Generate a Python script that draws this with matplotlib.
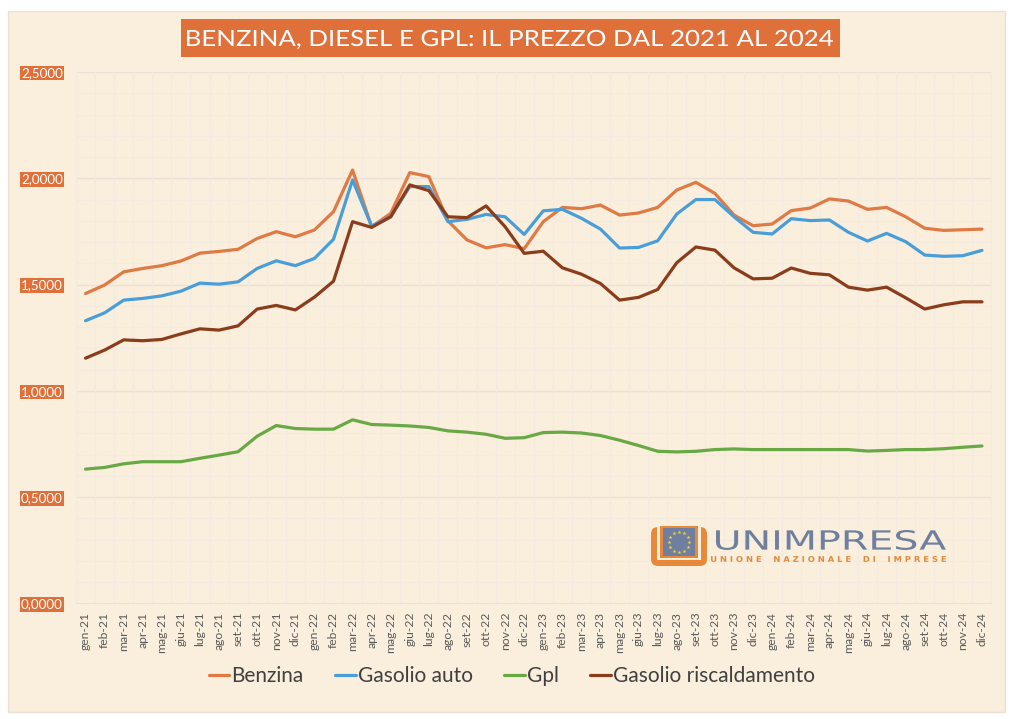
import matplotlib
matplotlib.use('Agg')
import matplotlib.pyplot as plt
from matplotlib.patches import Rectangle, FancyBboxPatch, PathPatch
from matplotlib.textpath import TextPath
from matplotlib.font_manager import FontProperties
from matplotlib.transforms import Affine2D
import numpy as np

# ---------------- data ----------------
months = ['gen', 'feb', 'mar', 'apr', 'mag', 'giu', 'lug', 'ago', 'set', 'ott', 'nov', 'dic']
years = ['21', '22', '23', '24']
x_labels = [f'{m}-{y}' for y in years for m in months]

benzina = [1.458, 1.498, 1.560, 1.576, 1.589, 1.611, 1.648, 1.656, 1.666, 1.717, 1.749, 1.725,
           1.757, 1.843, 2.039, 1.772, 1.835, 2.027, 2.008, 1.800, 1.710, 1.673, 1.688, 1.669,
           1.796, 1.863, 1.857, 1.874, 1.827, 1.837, 1.863, 1.945, 1.981, 1.929, 1.827, 1.777,
           1.785, 1.848, 1.860, 1.903, 1.893, 1.854, 1.863, 1.819, 1.765, 1.755, 1.758, 1.761]
gasolio_auto = [1.330, 1.367, 1.427, 1.435, 1.447, 1.469, 1.507, 1.502, 1.513, 1.576, 1.612, 1.589,
                1.623, 1.713, 1.992, 1.775, 1.819, 1.961, 1.961, 1.796, 1.807, 1.830, 1.819, 1.736,
                1.847, 1.854, 1.812, 1.761, 1.672, 1.675, 1.706, 1.832, 1.900, 1.900, 1.819, 1.746,
                1.738, 1.810, 1.801, 1.804, 1.746, 1.705, 1.741, 1.702, 1.639, 1.633, 1.636, 1.661]
gpl = [0.632, 0.640, 0.657, 0.667, 0.667, 0.667, 0.683, 0.698, 0.714, 0.787, 0.837, 0.823,
       0.820, 0.820, 0.864, 0.842, 0.839, 0.835, 0.828, 0.812, 0.806, 0.796, 0.777, 0.780,
       0.804, 0.806, 0.802, 0.790, 0.768, 0.743, 0.716, 0.713, 0.716, 0.724, 0.727, 0.724,
       0.724, 0.724, 0.724, 0.724, 0.724, 0.717, 0.720, 0.724, 0.724, 0.728, 0.735, 0.741]
gasolio_risc = [1.154, 1.192, 1.240, 1.236, 1.242, 1.268, 1.292, 1.286, 1.306, 1.385, 1.402, 1.381,
                1.441, 1.516, 1.796, 1.769, 1.819, 1.969, 1.942, 1.819, 1.815, 1.870, 1.772, 1.647,
                1.657, 1.579, 1.549, 1.505, 1.427, 1.440, 1.477, 1.603, 1.677, 1.662, 1.579, 1.527,
                1.530, 1.578, 1.553, 1.546, 1.488, 1.474, 1.488, 1.438, 1.385, 1.405, 1.419, 1.419]

series_names = ['Benzina', 'Gasolio auto', 'Gpl', 'Gasolio riscaldamento']
series_values = [benzina, gasolio_auto, gpl, gasolio_risc]
series_colors = ['#E07A45', '#4A9ED8', '#68A945', '#8A3C1B']

y_ticks = [0.0, 0.5, 1.0, 1.5, 2.0, 2.5]
title = 'BENZINA, DIESEL E GPL: IL PREZZO DAL 2021 AL 2024'

# ---------------- figure ----------------
W, H = 1024, 719
fig = plt.figure(figsize=(W / 100, H / 100), dpi=100, facecolor='white')

CREAM = '#FAEEDC'
ORANGE = '#E0703A'

# background overlay axes in pixel coords
bg = fig.add_axes([0, 0, 1, 1], zorder=0)
bg.set_xlim(0, W)
bg.set_ylim(H, 0)
bg.axis('off')
bg.add_patch(Rectangle((8, 11), 997, 701, facecolor=CREAM, edgecolor='#E9E1D6', lw=1))

# ---------------- main axes ----------------
left, right, top, bottom = 76, 991.5, 72, 603.5
ax = fig.add_axes([left / W, 1 - bottom / H, (right - left) / W, (bottom - top) / H], zorder=2)
ax.set_facecolor('none')

x = np.arange(len(x_labels))
for name, vals, col in zip(series_names, series_values, series_colors):
    ax.plot(x, vals, color=col, lw=2.3, label=name, solid_capstyle='round', solid_joinstyle='round')

ax.set_xlim(-0.5, len(x_labels) - 0.5)
ax.set_ylim(0, 2.5)

# grid
for yv in np.arange(0.1, 2.5, 0.1):
    major = abs(yv * 2 - round(yv * 2)) < 1e-6
    ax.axhline(yv, color='#EAE2D7' if major else '#F3EBE0', lw=1.0 if major else 0.8, zorder=0)
ax.axhline(2.5, color='#EAE2D7', lw=1.0, zorder=0)
for xv in np.arange(-0.5, len(x_labels), 1.0):
    ax.axvline(xv, color='#F3EBE0', lw=0.8, zorder=0)
ax.axhline(0, color='#E6DDD2', lw=1.2, zorder=1)

for s in ax.spines.values():
    s.set_visible(False)

ax.set_xticks(x)
ax.set_xticklabels(x_labels, rotation=90, fontsize=8.7, color='#5A5A5A', family='Lato')
ax.tick_params(axis='x', length=0, pad=6)

ax.set_yticks(y_ticks)
ax.set_yticklabels([f'{v:.4f}'.replace('.', ',') for v in y_ticks], fontsize=9.6,
                   color='white', family='Lato')
ax.tick_params(axis='y', length=0, pad=9.5)
for t in ax.get_yticklabels():
    t.set_bbox(dict(facecolor=ORANGE, edgecolor='none', pad=1.0))

# legend
leg = fig.legend(loc='center', bbox_to_anchor=(512 / W, 1 - 676 / H), ncol=4, frameon=False,
                 prop=FontProperties(family='Lato', size=15), handlelength=1.0, handletextpad=0.1,
                 columnspacing=1.5, labelcolor='#404040')
for h in leg.get_lines():
    h.set_linewidth(2.3)

# ---------------- overlay (title + logo) in pixel coords ----------------
lg = fig.add_axes([0, 0, 1, 1], zorder=3)
lg.set_xlim(0, W)
lg.set_ylim(H, 0)
lg.axis('off')
lg.patch.set_alpha(0)


def fit_text(axis, s, box, color, family, weight='normal', cap_ref=None):
    """Draw text s so that it spans box=(x0, ytop, x1, ybase) in pixel coords.
    If cap_ref is given, the vertical scale is taken from the cap height of cap_ref
    and ybase is the baseline."""
    fp = FontProperties(family=family, weight=weight)
    tp = TextPath((0, 0), s, size=10, prop=fp)
    ext = tp.get_extents()
    x0, y0, x1, y1 = box
    sx = (x1 - x0) / ext.width
    if cap_ref is not None:
        ce = TextPath((0, 0), cap_ref, size=10, prop=fp).get_extents()
        sy = (y1 - y0) / ce.y1
        tr = Affine2D().translate(-ext.x0, 0).scale(sx, -sy).translate(x0, y1)
    else:
        sy = (y1 - y0) / ext.height
        tr = Affine2D().translate(-ext.x0, -ext.y0).scale(sx, -sy).translate(x0, y1)
    axis.add_patch(PathPatch(tr.transform_path(tp), facecolor=color, edgecolor='none', zorder=4))


# title box + text
lg.add_patch(Rectangle((181, 19), 659, 38, facecolor=ORANGE, edgecolor='none', zorder=3))
fit_text(lg, title, (187, 30, 833, 46), 'white', 'Lato', cap_ref='BENZINA')

# U frame logo
lg.add_patch(FancyBboxPatch((651, 527), 56, 39, boxstyle='round,pad=0,rounding_size=7',
                            facecolor='#E8893A', edgecolor='none'))
lg.add_patch(Rectangle((657, 524), 44, 36, facecolor=CREAM, edgecolor='none'))
lg.add_patch(Rectangle((660, 526), 38, 32, facecolor='#E8893A', edgecolor='none'))
lg.add_patch(Rectangle((663, 528), 32, 28, facecolor='#6F7FA0', edgecolor='none'))
ang = np.linspace(0, 2 * np.pi, 12, endpoint=False)
lg.scatter(679 + 10 * np.cos(ang), 542 + 10 * np.sin(ang), marker='*', s=9, color='#F2D23A',
           linewidths=0, zorder=4)

fit_text(lg, 'UNIMPRESA', (716, 530, 946, 550), '#6F7F9E', 'DejaVu Sans')
fit_text(lg, 'U N I O N E    N A Z I O N A L E    D I    I M P R E S E', (711, 556, 946, 562),
         '#E08A3C', 'DejaVu Sans', 'bold')

fig.savefig('out.png', dpi=100, facecolor='white')
